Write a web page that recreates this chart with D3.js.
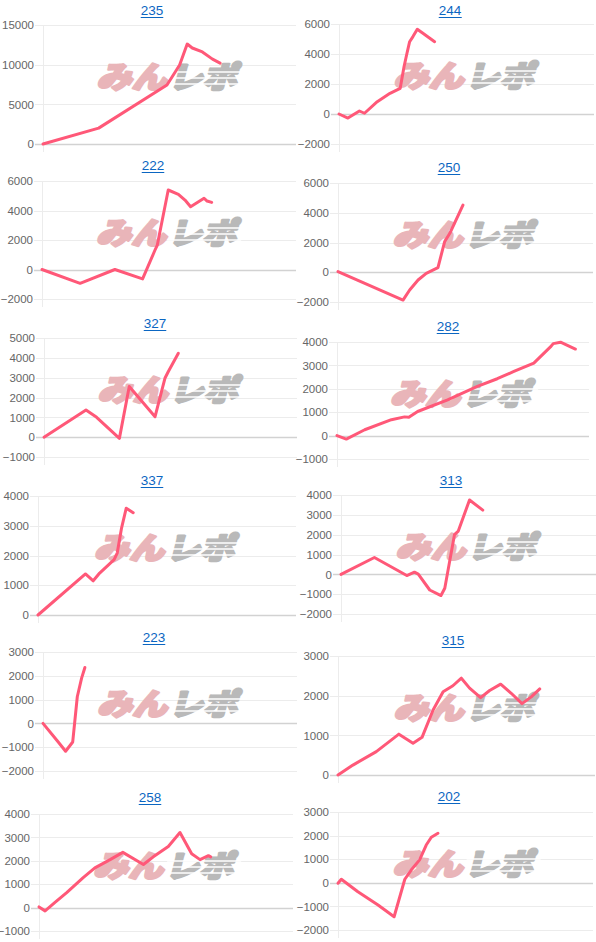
<!DOCTYPE html>
<html><head><meta charset="utf-8">
<script src="https://cdn.jsdelivr.net/npm/d3@7"></script>
<style>html,body{margin:0;padding:0;background:#fff;}svg{display:block;}</style>
</head><body>
<svg id="c" width="596" height="942"></svg>
<script>
// ---- data ----
const titles = ["235","244","222","250","327","282","337","313","223","315","258","202"];
const yTicks = [
  [0,5000,10000,15000],
  [-2000,0,2000,4000,6000],
  [-2000,0,2000,4000,6000],
  [-2000,0,2000,4000,6000],
  [-1000,0,1000,2000,3000,4000,5000],
  [-1000,0,1000,2000,3000,4000],
  [0,1000,2000,3000,4000],
  [-2000,-1000,0,1000,2000,3000,4000],
  [-2000,-1000,0,1000,2000,3000],
  [0,1000,2000,3000],
  [-1000,0,1000,2000,3000,4000],
  [-2000,-1000,0,1000,2000,3000]
];
const xMax = 100;
// [game index, balance]
const d235 = [[0,0],[22,2000],[49,7440],[54,9960],[57,12600],[59,12100],[63,11600],[67,10700],[70,10200]];
const d244 = [[0,0],[3.5,-270],[8,200],[10,50],[15,820],[20,1380],[24,1710],[25.5,3150],[26.5,3930],[27.7,4820],[29,5160],[30.7,5650],[32.9,5380],[37.5,4820]];
const d222 = [[0,0],[15,-940],[28.7,0],[39.6,-640],[44.5,1320],[45.4,1660],[49.7,5390],[53.7,5100],[56.3,4710],[58.5,4260],[63.8,4830],[65,4640],[66.8,4550]];
const d250 = [[0,40],[25.5,-1870],[28.1,-1190],[31.4,-520],[34.6,-70],[39.2,310],[41.8,2050],[43.8,2600],[49,4520]];
const d327 = [[0,0],[16.6,1370],[20.8,1000],[29.8,-60],[33.7,2550],[43.9,1030],[45.6,1880],[47.8,2970],[49.1,3300],[53.1,4230]];
const d282 = [[0,0],[3.7,-150],[11,250],[21.6,680],[26.8,800],[28.5,780],[32,1030],[43.9,1530],[55.7,2100],[63.6,2430],[70.2,2740],[78.1,3100],[84.7,3790],[85.8,3930],[88.7,3990],[94.6,3700]];
const d337 = [[0,0],[18.4,1380],[21.4,1150],[23.9,1410],[29.5,1860],[30.7,2080],[32.4,2930],[34.2,3590],[36.9,3440]];
const d313 = [[0,0],[13.1,850],[25.8,-60],[28.8,110],[30.3,10],[34.8,-790],[39.2,-1070],[40.7,-700],[44.5,2000],[46,2180],[50.4,3750],[55.6,3240]];
const d223 = [[0,0],[6,-780],[8.9,-1170],[11.7,-780],[13.5,1120],[15.2,1900],[16.5,2350]];
const d315 = [[0,0],[5.8,250],[14.9,590],[23.7,1030],[29.2,800],[32.7,950],[37,1640],[40.9,2100],[44.7,2250],[48,2440],[51.2,2190],[55.5,1950],[59,2130],[63.3,2290],[67.4,2060],[71.6,1800],[75.2,1970],[78.5,2170]];
const d258 = [[0,30],[2.4,-140],[6.3,220],[10.9,640],[17.4,1280],[22,1700],[28,2050],[33,2360],[41.1,1840],[45,2170],[50.9,2610],[55.5,3210],[60.1,2300],[63.4,2050],[66.7,2220],[67.6,2170]];
const d202 = [[0,-20],[1.3,150],[7.8,-380],[15.7,-940],[22,-1440],[26.2,150],[28.7,540],[32,970],[34.6,1600],[36.6,1930],[39.2,2100]];
const seriesList = [d235,d244,d222,d250,d327,d282,d337,d313,d223,d315,d258,d202];

// ---- layout (pixels) ----
const layout = [
  {ax:43, rx:296, top:25,  bot:144, tx:152, ty:15},
  {ax:339,rx:594, top:24,  bot:144, tx:450, ty:15},
  {ax:42, rx:296, top:181, bot:299, tx:153, ty:170},
  {ax:338,rx:593, top:183, bot:302, tx:449, ty:172},
  {ax:44, rx:297, top:338, bot:457, tx:155, ty:328},
  {ax:337,rx:589, top:342, bot:459, tx:448, ty:331},
  {ax:38, rx:296, top:496, bot:615, tx:152, ty:485},
  {ax:341,rx:596, top:495, bot:614, tx:451, ty:485},
  {ax:43, rx:297, top:652, bot:771, tx:154, ty:642},
  {ax:338,rx:595, top:656, bot:775, tx:453, ty:645},
  {ax:39, rx:293, top:814, bot:931, tx:150, ty:802},
  {ax:338,rx:593, top:812, bot:930, tx:449, ty:801}
];
const lineColor = "rgb(255,88,120)";

const svg = d3.select("#c");
seriesList.forEach((data, i) => {
  const L = layout[i];
  const ticks = yTicks[i];
  const x = d3.scaleLinear().domain([0, xMax]).range([L.ax, L.rx]);
  const y = d3.scaleLinear().domain([ticks[0], ticks[ticks.length-1]]).range([L.bot, L.top]);
  const g = svg.append("g");

  // grid
  g.selectAll("line.grid").data(ticks).join("line")
    .attr("x1", L.ax - 8).attr("x2", L.rx)
    .attr("y1", d => Math.round(y(d)) + 0.5).attr("y2", d => Math.round(y(d)) + 0.5)
    .attr("stroke", d => d === 0 ? "#d2d2d2" : "#ececec").attr("stroke-width", d => d === 0 ? 1.5 : 1);
  g.append("line").attr("x1", L.ax + 0.5).attr("x2", L.ax + 0.5)
    .attr("y1", L.top).attr("y2", L.bot + 8).attr("stroke", "#ececec");

  // y axis labels via d3 axis
  const axis = d3.axisLeft(y).tickValues(ticks).tickSize(0).tickPadding(9).tickFormat(d3.format("d"));
  const ag = g.append("g").attr("transform", `translate(${L.ax},0)`).call(axis);
  ag.select(".domain").remove();
  ag.selectAll("text").attr("font-family", "'Liberation Sans', Arial, sans-serif")
    .attr("font-size", 11.5).attr("fill", "#666");

  // watermark
  const cx = (L.ax + L.rx) / 2 - 2, cy = L.top + 52;
  const wm = g.append("g").attr("transform", `translate(${cx},${cy}) skewX(-14)`);
  wm.append("text").attr("x", -68).attr("y", 11).text("みん")
    .attr("font-family", "'Noto Sans CJK JP', sans-serif").attr("font-weight", 900)
    .attr("font-size", 30).attr("textLength", 70).attr("lengthAdjust", "spacingAndGlyphs")
    .attr("fill", "#e9b5b9").attr("stroke", "#e9b5b9").attr("stroke-width", 2.6)
    .attr("stroke-linejoin", "round");
  wm.append("text").attr("x", 4).attr("y", 11).text("レポ")
    .attr("font-family", "'Noto Sans CJK JP', sans-serif").attr("font-weight", 900)
    .attr("font-size", 30).attr("textLength", 68).attr("lengthAdjust", "spacingAndGlyphs")
    .attr("fill", "#b9b9b9").attr("stroke", "#b9b9b9").attr("stroke-width", 2.6)
    .attr("stroke-linejoin", "round");
  [ -5, 1, 7 ].forEach(dy => {
    wm.append("line").attr("x1", 2).attr("x2", 76).attr("y1", dy).attr("y2", dy)
      .attr("stroke", "#fff").attr("stroke-width", 1.3);
  });

  // line
  const line = d3.line().x(d => x(d[0])).y(d => y(d[1]));
  g.append("path").datum(data).attr("d", line).attr("fill", "none")
    .attr("stroke", lineColor).attr("stroke-width", 3)
    .attr("stroke-linejoin", "round").attr("stroke-linecap", "round");

  // title
  const t = g.append("text").attr("x", L.tx).attr("y", L.ty).attr("text-anchor", "middle")
    .attr("font-family", "'Liberation Sans', Arial, sans-serif").attr("font-size", 13.5)
    .attr("fill", "#0b66c2").text(titles[i]);
  const bb = t.node().getBBox();
  g.append("line").attr("x1", bb.x).attr("x2", bb.x + bb.width)
    .attr("y1", L.ty + 2.5).attr("y2", L.ty + 2.5).attr("stroke", "#0b66c2").attr("stroke-width", 1);
});
</script>
</body></html>
